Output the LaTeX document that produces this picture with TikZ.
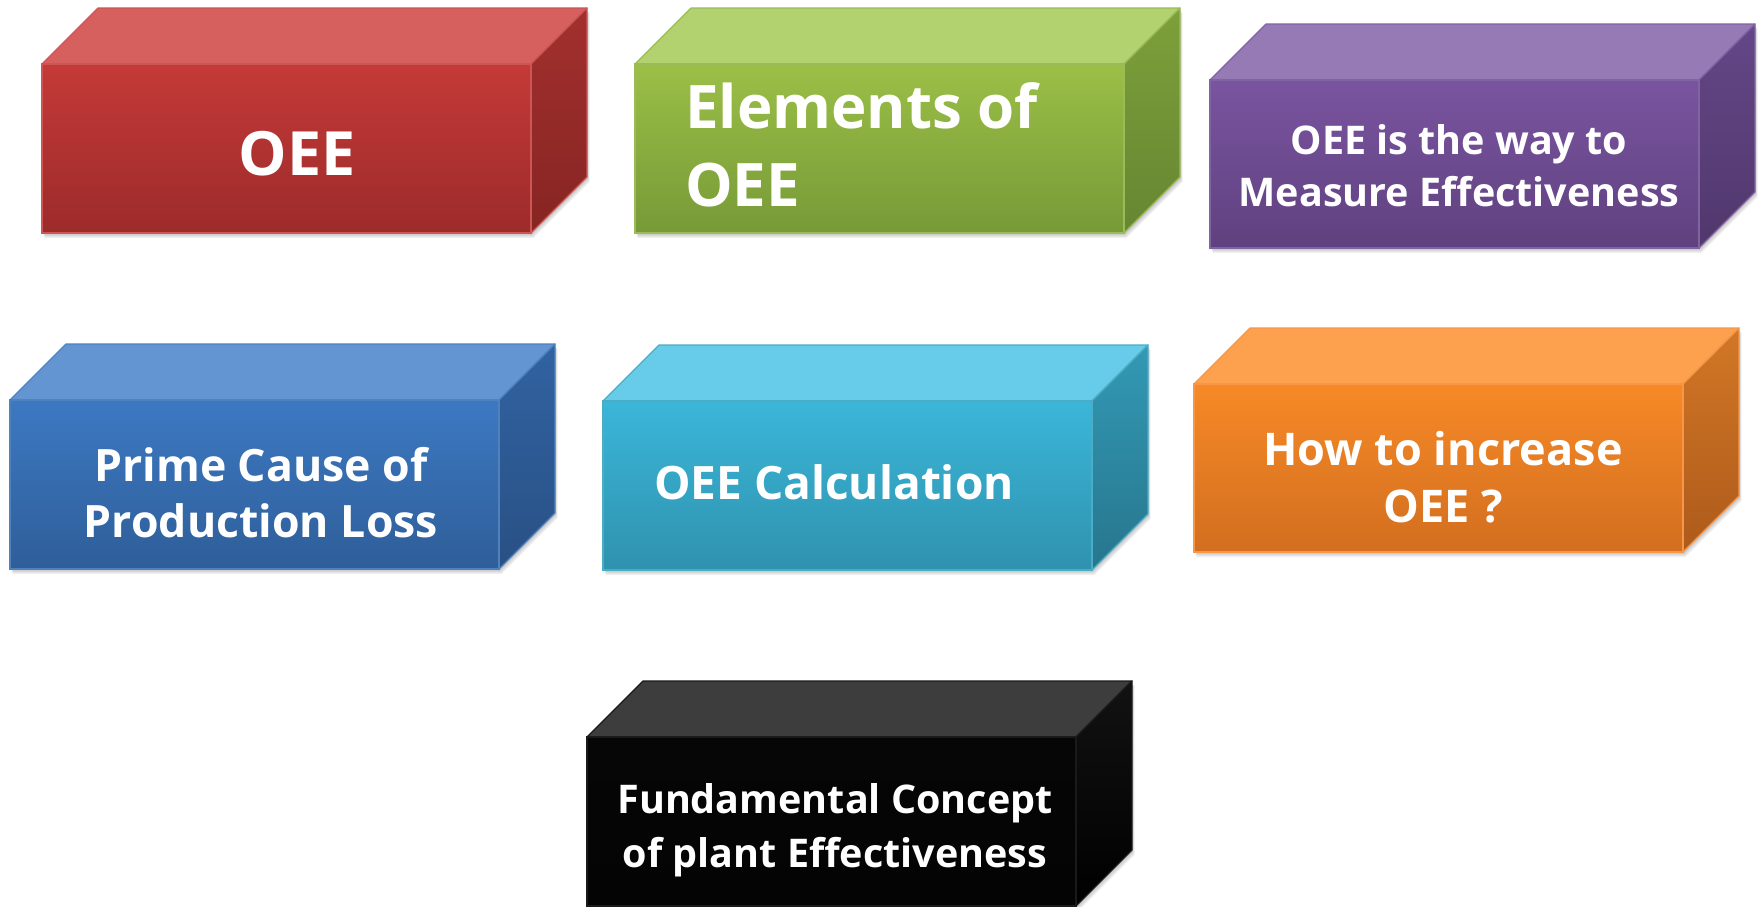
\documentclass[tikz,border=0pt]{standalone}
\usepackage{fontspec}
\setmainfont{Open Sans}
\usetikzlibrary{calc}

% palettes: F1/F2 front gradient, T top face, R1/R2 side gradient, E edges
\definecolor{redF1}{HTML}{C43A38}\definecolor{redF2}{HTML}{9C2B2A}
\definecolor{redT}{HTML}{D5605E}\definecolor{redR1}{HTML}{A2302E}
\definecolor{redR2}{HTML}{862523}\definecolor{redE}{HTML}{CD5553}
\definecolor{grnF1}{HTML}{9BBF46}\definecolor{grnF2}{HTML}{779A38}
\definecolor{grnT}{HTML}{B2D26F}\definecolor{grnR1}{HTML}{7DA03A}
\definecolor{grnR2}{HTML}{668632}\definecolor{grnE}{HTML}{9BBB59}
\definecolor{purF1}{HTML}{7A54A0}\definecolor{purF2}{HTML}{5F417F}
\definecolor{purT}{HTML}{957AB6}\definecolor{purR1}{HTML}{634787}
\definecolor{purR2}{HTML}{51376D}\definecolor{purE}{HTML}{8064A2}
\definecolor{bluF1}{HTML}{3C79C2}\definecolor{bluF2}{HTML}{2F5E99}
\definecolor{bluT}{HTML}{6495D3}\definecolor{bluR1}{HTML}{3163A1}
\definecolor{bluR2}{HTML}{295085}\definecolor{bluE}{HTML}{4F81BD}
\definecolor{cyaF1}{HTML}{3BB6D9}\definecolor{cyaF2}{HTML}{2F92AE}
\definecolor{cyaT}{HTML}{66CCE9}\definecolor{cyaR1}{HTML}{3399B5}
\definecolor{cyaR2}{HTML}{27768D}\definecolor{cyaE}{HTML}{4BACC6}
\definecolor{orgF1}{HTML}{F78A27}\definecolor{orgF2}{HTML}{D26E1F}
\definecolor{orgT}{HTML}{FDA14F}\definecolor{orgR1}{HTML}{D27726}
\definecolor{orgR2}{HTML}{AD5A1B}\definecolor{orgE}{HTML}{F79646}
\definecolor{blkF1}{HTML}{060606}\definecolor{blkF2}{HTML}{040404}
\definecolor{blkT}{HTML}{3D3D3D}\definecolor{blkR1}{HTML}{121212}
\definecolor{blkR2}{HTML}{000000}\definecolor{blkE}{HTML}{1A1A1A}

% #1 name, #2 x, #3 y of front top-left, #4 width, #5 height, #6 palette
\newcommand\prism[6]{%
  \foreach \o in {1,...,5}{%
    \fill[black,opacity=0.05] ({#2+0.5*\o},{#3+#5+\o}) -- ++(#4,0) -- ++(56,-56)
      -- ++(0,-#5) -- ++(-#4,0) -- cycle;}
  \node[frontface, minimum width=#4pt, minimum height=#5pt,
        top color=#6F1, bottom color=#6F2, draw=#6E] (#1) at (#2,#3) {};
  \filldraw[fill=#6T, draw=#6E, edge]
    (#1.north west) -- ++(56,-56) -- ++(#4,0) -- (#1.north east) -- cycle;
  \shade[top color=#6R1, bottom color=#6R2]
    (#1.north east) -- ++(56,-56) -- ++(0,#5) -- (#1.south east) -- cycle;
  \draw[#6E, edge]
    (#1.north east) -- ++(56,-56) -- ++(0,#5) -- (#1.south east) -- cycle;
  \draw[#6E, edge] (#1.north west) rectangle (#1.south east);
}

\begin{document}
\begin{tikzpicture}[x=1pt, y=-1pt,
  frontface/.style={rectangle, anchor=north west, inner sep=0pt, outer sep=0pt, line width=1.2pt},
  edge/.style={line width=1.2pt, line join=round},
  caption/.style={text=white, inner sep=0pt, align=center, font=\bfseries}]
\useasboundingbox (0,0) rectangle (1762,906);

\prism{oee}{42}{64}{489}{169}{red}
\prism{elements}{635}{64}{489}{169}{grn}
\prism{measure}{1210}{80}{489}{168}{pur}
\prism{prime}{10}{400}{489}{169}{blu}
\prism{calc}{603}{401}{489}{169}{cya}
\prism{increase}{1194}{384}{489}{168}{org}
\prism{concept}{587}{737}{489}{169}{blk}

\node[caption, font=\bfseries\fontsize{61}{70}\selectfont] (oeeT) at (297,154) {OEE};
\node[caption, anchor=west, align=left, font=\bfseries\fontsize{60}{78}\selectfont]
  (elementsT) at (685,145) {Elements of\\OEE};
\node[caption, font=\bfseries\fontsize{39.5}{52}\selectfont]
  (measureT) at (1459,166) {OEE is the way to\\Measure Effectiveness};
\node[caption, font=\bfseries\fontsize{44.6}{56}\selectfont]
  (primeT) at (261,493) {Prime Cause of\\Production Loss};
\node[caption, font=\bfseries\fontsize{46}{56}\selectfont]
  (calcT) at (834,482) {OEE Calculation};
\node[caption, font=\bfseries\fontsize{45}{57}\selectfont]
  (increaseT) at (1443,477) {How to increase\\OEE ?};
\node[caption, font=\bfseries\fontsize{39.5}{54}\selectfont]
  (conceptT) at (835,830) {Fundamental Concept\\of plant Effectiveness};
\end{tikzpicture}
\end{document}
